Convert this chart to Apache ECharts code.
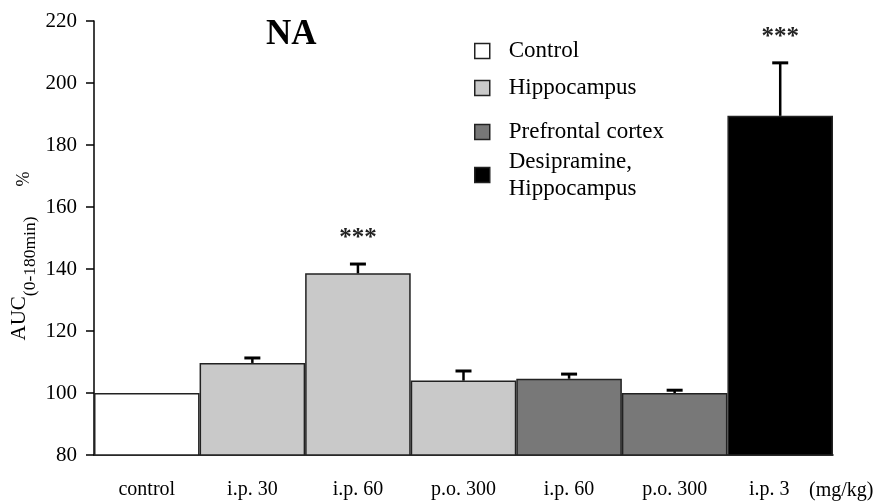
<!DOCTYPE html>
<html><head><meta charset="utf-8">
<script src="https://cdn.jsdelivr.net/npm/echarts@6/dist/echarts.min.js"></script>
<style>html,body{margin:0;padding:0;background:#fff}#c{width:880px;height:501px}</style>
</head><body><div id="c"></div>
<script>
const categories = ['control', 'i.p. 30', 'i.p. 60', 'p.o. 300', 'i.p. 60', 'p.o. 300', 'i.p. 3'];
const seriesNames = ['Control', 'Hippocampus', 'Prefrontal cortex', 'Desipramine, Hippocampus'];
const controlValues = [100, null, null, null, null, null, null];
const hippocampusValues = [null, 109.7, 138.6, 104.0, null, null, null];
const prefrontalValues = [null, null, null, null, 104.6, 100.0, null];
const desipramineValues = [null, null, null, null, null, null, 189.4];
const errorValues = [null, 1.6, 3.0, 3.1, 1.5, 0.9, 17.1];
const significance = ['', '', '***', '', '', '', '***'];
const yMin = 80, yMax = 220, yStep = 20;
const titleText = 'NA';
const unitText = '(mg/kg)';

const FONT = 'Liberation Serif';
const colors = ['#ffffff', '#c9c9c9', '#787878', '#000000'];
const valueSets = [controlValues, hippocampusValues, prefrontalValues, desipramineValues];
const means = categories.map((c, i) => {
  for (const s of valueSets) if (s[i] != null) return s[i];
  return null;
});
const errData = categories.map((c, i) => [i, means[i], errorValues[i], i]).filter(d => d[2] != null);

const chart = echarts.init(document.getElementById('c'), null, {renderer: 'canvas'});

const barSeries = valueSets.map((vals, k) => ({
  name: seriesNames[k],
  type: 'bar',
  data: vals,
  barWidth: '100%',
  barGap: '-100%',
  barCategoryGap: 0,
  itemStyle: {color: colors[k], borderColor: '#222', borderWidth: 1.5},
  emphasis: {disabled: true}
}));

const legendCenters = [51, 88, 132, 175];
const legends = seriesNames.map((n, k) => {
  const multi = k === 3;
  return {
    show: true,
    data: [multi ? {name: n, textStyle: {padding: [27, 0, 0, 14], lineHeight: 27}} : n],
    orient: 'vertical',
    left: 474,
    top: multi ? legendCenters[k] - 40.5 : legendCenters[k] - 13,
    padding: 0,
    icon: 'rect',
    itemWidth: 15,
    itemHeight: 15,
    selectedMode: false,
    itemStyle: {borderColor: '#222', borderWidth: 1.5},
    formatter: name => name.replace(', ', ',\n'),
    textStyle: {fontFamily: FONT, fontSize: 23, color: '#000', lineHeight: 26, padding: [0, 0, 0, 14]}
  };
});

chart.setOption({
  animation: false,
  backgroundColor: '#fff',
  title: {
    text: titleText, left: 266, top: 17, padding: 0,
    textStyle: {fontFamily: FONT, fontSize: 35, fontWeight: 'bold', color: '#000'}
  },
  legend: legends,
  grid: {left: 94, right: 47, top: 21, bottom: 46, containLabel: false},
  xAxis: {
    type: 'category',
    data: categories,
    boundaryGap: true,
    name: unitText,
    nameLocation: 'end',
    nameGap: -24,
    nameTextStyle: {fontFamily: FONT, fontSize: 20, color: '#000', align: 'left', verticalAlign: 'top', lineHeight: 20, padding: [26, 0, 0, 0]},
    axisLine: {show: true, lineStyle: {color: '#000', width: 1.5}},
    axisTick: {show: false},
    axisLabel: {
      fontFamily: FONT, fontSize: 20, color: '#000', margin: 25, interval: 0,
      formatter: (v, i) => i === categories.length - 1 ? '{shift|' + v + '}' : v,
      rich: {shift: {fontFamily: FONT, fontSize: 20, color: '#000', padding: [0, 22, 0, 0]}}
    },
    splitLine: {show: false}
  },
  yAxis: {
    type: 'value',
    min: yMin, max: yMax, interval: yStep,
    axisLine: {show: true, lineStyle: {color: '#000', width: 1.5}},
    axisTick: {show: true, length: 8, lineStyle: {color: '#000', width: 1.5}},
    axisLabel: {fontFamily: FONT, fontSize: 21, color: '#000', margin: 17},
    splitLine: {show: false}
  },
  graphic: [{
    type: 'text',
    x: 24, y: 256,
    rotation: Math.PI / 2,
    style: {
      text: '{a|AUC}{b|(0-180min)}{c|%}',
      align: 'center', verticalAlign: 'middle',
      rich: {
        a: {fontFamily: FONT, fontSize: 21, lineHeight: 21, verticalAlign: 'top', fill: '#000'},
        b: {fontFamily: FONT, fontSize: 17.5, lineHeight: 17, verticalAlign: 'bottom', fill: '#000'},
        c: {fontFamily: FONT, fontSize: 18, lineHeight: 30, verticalAlign: 'middle', fill: '#000', padding: [0, 0, 0, 30]}
      }
    }
  }],
  series: barSeries.concat([{
    type: 'custom',
    name: 'error',
    data: errData,
    clip: false,
    z: 10,
    silent: true,
    renderItem: function (params, api) {
      const i = api.value(0), m = api.value(1), e = api.value(2);
      const base = api.coord([i, m]);
      const top = api.coord([i, m + e]);
      const hw = 8;
      const children = [
        {type: 'line', shape: {x1: base[0], y1: base[1], x2: top[0], y2: top[1]}, style: {stroke: '#000', lineWidth: 2.5}},
        {type: 'line', shape: {x1: top[0] - hw, y1: top[1], x2: top[0] + hw, y2: top[1]}, style: {stroke: '#000', lineWidth: 3}}
      ];
      const sig = significance[api.value(3)];
      if (sig) {
        children.push({type: 'text', x: top[0], y: top[1] - 25,
          style: {text: sig, fontFamily: FONT, fontSize: 25, fontWeight: 'bold', align: 'center', verticalAlign: 'middle', fill: '#222'}});
      }
      return {type: 'group', children: children};
    }
  }])
});
</script>
</body></html>
